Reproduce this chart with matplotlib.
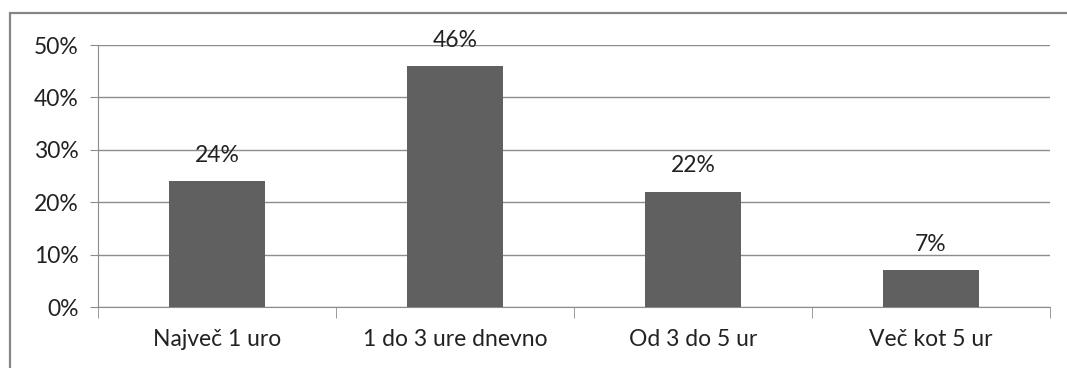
import matplotlib
matplotlib.use("Agg")
import matplotlib.pyplot as plt
from matplotlib.patches import Rectangle

categories = ["Največ 1 uro", "1 do 3 ure dnevno", "Od 3 do 5 ur", "Več kot 5 ur"]
values = [24, 46, 22, 7]
ytick_values = [0, 10, 20, 30, 40, 50]
ytick_labels = ["0%", "10%", "20%", "30%", "40%", "50%"]

W, H = 1067, 368
fig = plt.figure(figsize=(W / 100, H / 100), dpi=100)
plt.rcParams['font.family'] = ['Lato', 'DejaVu Sans']
FS = 16.5

# outer frame (top and left visible)
fig.patches.append(Rectangle((10 / W, -0.1), 1.2, (H - 13) / H + 0.1,
                             transform=fig.transFigure, fill=False,
                             edgecolor="#868686", linewidth=1.6))

ax = fig.add_axes([98 / W, 1 - 307 / H, (1050 - 98) / W, (307 - 45) / H])
x = list(range(len(categories)))
ax.bar(x, values, width=0.4, color="#606060", zorder=3)
ax.set_xlim(-0.5, len(categories) - 0.5)
ax.set_ylim(0, 50)
ax.set_yticks(ytick_values)
ax.set_yticklabels(ytick_labels)
ax.set_xticks(x)
ax.set_xticklabels(categories)
ax.grid(axis="y", color="#8c8c8c", linewidth=1.0, zorder=0)

for s in ["top", "right"]:
    ax.spines[s].set_visible(False)
ax.spines["left"].set_color("#8c8c8c")
ax.spines["bottom"].set_color("#8c8c8c")

ax.tick_params(axis="y", length=6, color="#8c8c8c", labelsize=FS,
               labelcolor="#222222", pad=8)
ax.tick_params(axis="x", length=0, labelsize=FS, labelcolor="#222222", pad=16)
# category boundary ticks
ax.set_xticks([i - 0.5 for i in range(len(categories) + 1)], minor=True)
ax.tick_params(axis="x", which="minor", length=8, color="#8c8c8c", direction="out")

for xi, v in zip(x, values):
    ax.annotate(f"{v}%", (xi, v), xytext=(0, 11), textcoords="offset points",
                ha="center", va="bottom", fontsize=FS, color="#222222")

fig.savefig("out.png", dpi=100)
